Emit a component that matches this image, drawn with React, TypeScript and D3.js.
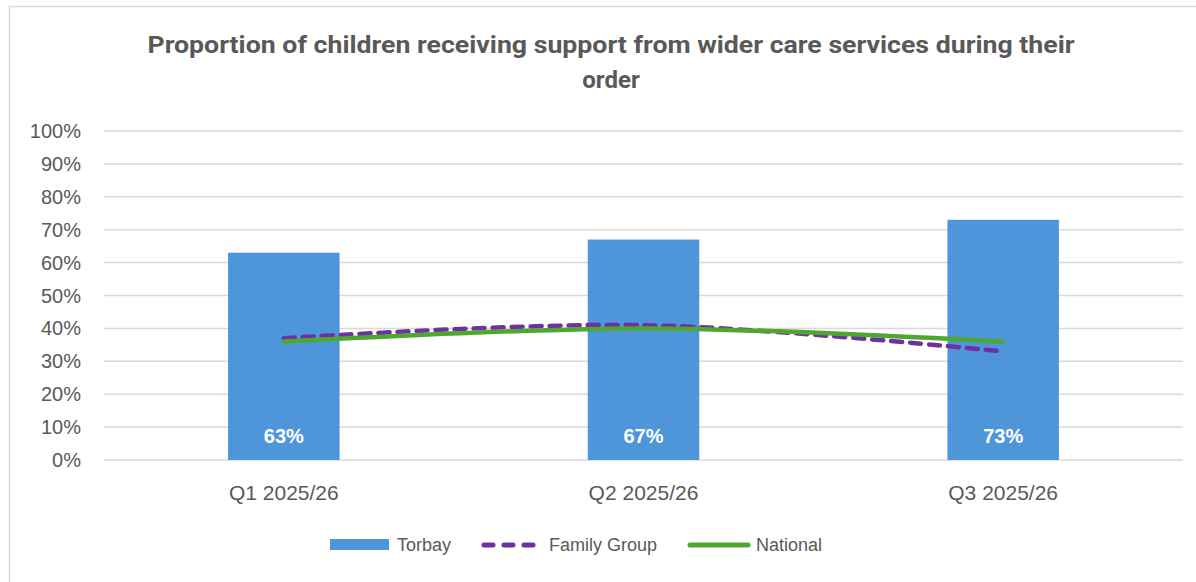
import React from 'react';
import * as d3 from 'd3';

const categories = ['Q1 2025/26', 'Q2 2025/26', 'Q3 2025/26'];
const torbay = [63, 67, 73];
const familyGroup = [37, 41, 33];
const national = [36, 40, 36];
const yTicks = [0, 10, 20, 30, 40, 50, 60, 70, 80, 90, 100];
const titleLines = [
  'Proportion of children receiving support from wider care services during their',
  'order',
];

const W = 1196;
const H = 582;
const margin = { top: 131, right: 13, bottom: 122, left: 104 };
const textColor = '#595959';
const barColor = '#4E95D9';
const purple = '#7030A0';
const green = '#4EA72E';

const App: React.FC = () => {
  const x = d3.scaleBand<string>()
    .domain(categories)
    .range([margin.left, W - margin.right])
    .paddingInner(0.69)
    .paddingOuter(0.345);

  const y = d3.scaleLinear()
    .domain([0, 100])
    .range([H - margin.bottom, margin.top]);

  const cx = (c: string) => (x(c) ?? 0) + x.bandwidth() / 2;

  const line = d3.line<number>()
    .x((_, i) => cx(categories[i]))
    .y(d => y(d))
    .curve(d3.curveCatmullRom.alpha(0.5));

  return (
    <svg width={W} height={H} style={{ position: 'absolute', left: 0, top: 0, fontFamily: '"Liberation Sans", Arial, sans-serif' }}>
      <rect x={0} y={0} width={W} height={H} fill="#fff" />
      <rect x={9.5} y={6.5} width={W + 10} height={H + 10} fill="none" stroke="#d9d9d9" strokeWidth={1.5} />

      <g fontFamily="Roboto, sans-serif" fontSize={24} fontWeight="bold" fill={textColor} textAnchor="middle">
        <text x={611} y={53} textLength={927} lengthAdjust="spacingAndGlyphs">{titleLines[0]}</text>
        <text x={611} y={88}>{titleLines[1]}</text>
      </g>

      {yTicks.map(t => (
        <g key={t}>
          <line x1={margin.left} x2={W - margin.right} y1={y(t)} y2={y(t)} stroke="#d9d9d9" strokeWidth={1.5} />
          <text x={81} y={y(t)} dy="0.35em" textAnchor="end" fontSize={20} fill={textColor}>{t}%</text>
        </g>
      ))}

      {categories.map((c, i) => (
        <g key={c}>
          <rect x={x(c)} y={y(torbay[i])} width={x.bandwidth()} height={y(0) - y(torbay[i])} fill={barColor} />
          <text x={cx(c)} y={y(0) - 24} dy="0.35em" textAnchor="middle" fontSize={20} fontWeight="bold" fill="#fff">{torbay[i]}%</text>
          <text x={cx(c)} y={y(0) + 33} dy="0.35em" textAnchor="middle" fontSize={21} fill={textColor}>{c}</text>
        </g>
      ))}

      <path d={line(familyGroup) ?? ''} fill="none" stroke={purple} strokeWidth={4.5} strokeDasharray="11 8" strokeLinecap="round" />
      <path d={line(national) ?? ''} fill="none" stroke={green} strokeWidth={4.5} strokeLinecap="round" />

      <g fontSize={18} fill={textColor}>
        <rect x={330} y={539} width={59} height={11} fill={barColor} />
        <text x={397} y={545} dy="0.35em">Torbay</text>
        <line x1={484} x2={540} y1={545} y2={545} stroke={purple} strokeWidth={5} strokeDasharray="9 11" strokeLinecap="round" />
        <text x={549} y={545} dy="0.35em">Family Group</text>
        <line x1={690} x2={748} y1={545} y2={545} stroke={green} strokeWidth={5} strokeLinecap="round" />
        <text x={756} y={545} dy="0.35em">National</text>
      </g>
    </svg>
  );
};

export default App;
